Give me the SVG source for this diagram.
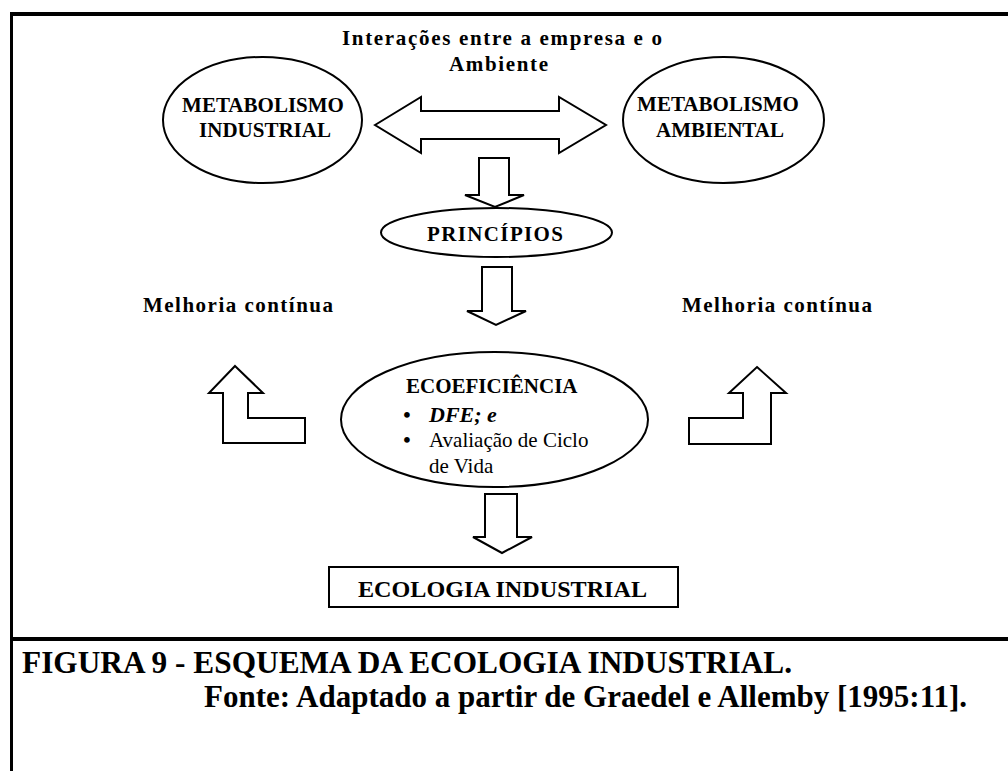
<svg xmlns="http://www.w3.org/2000/svg" width="1008" height="771" viewBox="0 0 1008 771">
<style>
.b{font-family:"Liberation Serif","Times New Roman",serif;font-weight:bold;fill:#000}
.r{font-family:"Liberation Serif","Times New Roman",serif;fill:#000}
.shape{fill:#fff;stroke:#000;stroke-width:2}
.frame{stroke:#000;fill:none}
</style>
<rect x="0" y="0" width="1008" height="771" fill="#fff"/>
<g id="frame">
<line class="frame" x1="10" y1="14" x2="1008" y2="14" stroke-width="4"/>
<line class="frame" x1="11.5" y1="12" x2="11.5" y2="771" stroke-width="3"/>
<line class="frame" x1="10" y1="639" x2="1008" y2="639" stroke-width="4"/>
</g>
<g id="title">
<text class="b" x="342" y="45" font-size="21" textLength="320" lengthAdjust="spacing">Interações entre a empresa e o</text>
<text class="b" x="449" y="71" font-size="21" textLength="99" lengthAdjust="spacing">Ambiente</text>
</g>
<g id="connectors">
<polygon class="shape" points="375,125 421,97 421,111 559,111 559,97 606,125 559,153 559,139 421,139 421,153"/>
<polygon class="shape" points="479,158 509,158 509,195 524,195 495,207 465,195 479,195"/>
<polygon class="shape" points="482,267 512,267 512,311 526,311 496,325 467,311 482,311"/>
<polygon class="shape" points="485,494 517,494 517,537 532,537 502,553 473,537 485,537"/>
<polygon class="shape" points="235,366 263,393 248,393 248,418 305,418 305,443 223,443 223,393 209,393"/>
<polygon class="shape" points="757,367 786,393 771,393 771,444 689,444 689,418 743,418 743,393 729,393"/>
</g>
<g id="metabolismo-industrial">
<ellipse class="shape" cx="262.5" cy="120" rx="99.5" ry="63"/>
<text class="b" x="263" y="112" font-size="21" text-anchor="middle">METABOLISMO</text>
<text class="b" x="265" y="137" font-size="21" text-anchor="middle">INDUSTRIAL</text>
</g>
<g id="metabolismo-ambiental">
<ellipse class="shape" cx="723.5" cy="120" rx="100.5" ry="63"/>
<text class="b" x="718" y="111" font-size="21" text-anchor="middle">METABOLISMO</text>
<text class="b" x="720" y="137" font-size="21" text-anchor="middle">AMBIENTAL</text>
</g>
<g id="principios">
<ellipse class="shape" cx="496.5" cy="232.5" rx="115.5" ry="24.5"/>
<text class="b" x="427" y="241" font-size="21" textLength="136" lengthAdjust="spacing">PRINCÍPIOS</text>
</g>
<g id="melhoria-esq">
<text class="b" x="143" y="312" font-size="21" textLength="190" lengthAdjust="spacing">Melhoria contínua</text>
</g>
<g id="melhoria-dir">
<text class="b" x="682" y="312" font-size="21" textLength="190" lengthAdjust="spacing">Melhoria contínua</text>
</g>
<g id="ecoeficiencia">
<ellipse class="shape" cx="494.5" cy="419.5" rx="153.5" ry="67.5"/>
<text class="b" x="406" y="393" font-size="21">ECOEFICIÊNCIA</text>
<text class="b" x="407" y="422" font-size="21" text-anchor="middle">•</text>
<text class="b" x="429" y="422" font-size="22" font-style="italic">DFE; e</text>
<text class="b" x="407" y="447" font-size="21" text-anchor="middle">•</text>
<text class="r" x="429" y="447" font-size="21">Avaliação de Ciclo</text>
<text class="r" x="429" y="473" font-size="21">de Vida</text>
</g>
<g id="ecologia-industrial">
<rect class="shape" x="329" y="567" width="349" height="40"/>
<text class="b" x="358" y="597" font-size="24" textLength="289" lengthAdjust="spacingAndGlyphs">ECOLOGIA INDUSTRIAL</text>
</g>
<g id="caption">
<text class="b" x="22" y="673" font-size="31" textLength="770" lengthAdjust="spacingAndGlyphs">FIGURA 9 - ESQUEMA DA ECOLOGIA INDUSTRIAL.</text>
<text class="b" x="204" y="707" font-size="31" textLength="763" lengthAdjust="spacingAndGlyphs">Fonte: Adaptado a partir de Graedel e Allemby [1995:11].</text>
</g>
</svg>
